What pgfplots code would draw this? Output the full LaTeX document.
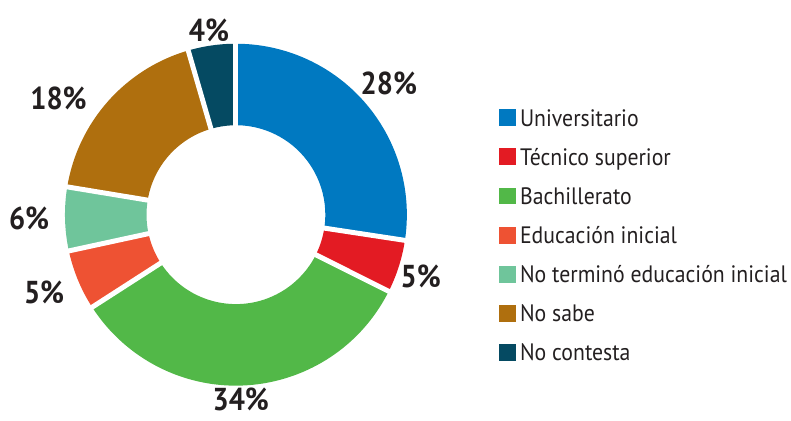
\documentclass[border=0pt]{standalone}
\usepackage{fontspec}
\setmainfont{PT Sans}[FakeStretch=0.915]
\newfontfamily\labfont{PT Sans}[FakeStretch=0.9]
\usepackage{pgfplots}
\usepackage{pgfplotstable}
\pgfplotsset{compat=1.18}
\usepgfplotslibrary{polar}

\definecolor{c0}{HTML}{0079C1}
\definecolor{c1}{HTML}{E31B23}
\definecolor{c2}{HTML}{52B848}
\definecolor{c3}{HTML}{EE5233}
\definecolor{c4}{HTML}{6FC59B}
\definecolor{c5}{HTML}{AF6F0E}
\definecolor{c6}{HTML}{054A62}
\definecolor{txt}{HTML}{231F20}

% share (%) as drawn, printed label, label angle and radius
\pgfplotstableread{
value lab la lr
27.4 28 40.7 1.18
5.0 5 -18.5 1.14
33.5 34 -88.5 1.08
5.7 5 202 1.21
6.0 6 181 1.21
17.9 18 146.8 1.24
4.5 4 98.3 1.09
}\shares

\begin{document}
% cumulative start/end angles, clockwise from the top
\def\cum{90}
\pgfplotsforeachungrouped \i in {0,...,6}{%
  \pgfplotstablegetelem{\i}{value}\of\shares
  \expandafter\xdef\csname sa\i\endcsname{\cum}%
  \pgfmathsetmacro\cum{\cum-3.6*\pgfplotsretval}%
  \expandafter\xdef\csname ea\i\endcsname{\cum}%
}
\begin{tikzpicture}
\path[use as bounding box] (0,0) rectangle (791bp,423bp);
\begin{polaraxis}[
  at={(232.5bp,207bp)}, anchor=origin,
  width=344bp, height=344bp, scale only axis,
  hide axis, clip=false,
  xmin=0, xmax=360, ymin=0, ymax=1,
  legend cell align=left,
  legend image code/.code={\fill[#1] (0bp,0.5bp) rectangle (16bp,16.5bp);},
  legend style={draw=none, fill=none, inner sep=0pt, outer sep=0pt,
    at={(1.2689,0.8087)}, anchor=north west, row sep=22.3bp,
    font=\fontsize{24}{28}\selectfont, text=txt,
    nodes={inner sep=0pt, text height=17bp, text depth=0pt, anchor=base west},
    /tikz/every odd column/.append style={column sep=5bp}},
]
\pgfplotsinvokeforeach{0,...,6}{%
  \edef\tmp{\noexpand\fill[c#1] (\csname sa#1\endcsname,1)
    arc[start angle=\csname sa#1\endcsname, end angle=\csname ea#1\endcsname, radius=172bp]
    -- (\csname ea#1\endcsname,0.523)
    arc[start angle=\csname ea#1\endcsname, end angle=\csname sa#1\endcsname, radius=90bp]
    -- cycle;}\tmp
}
\pgfplotsinvokeforeach{0,...,6}{%
  \edef\tmp{\noexpand\draw[white, line width=5bp]
    (\csname sa#1\endcsname,0.45) -- (\csname sa#1\endcsname,1.03);}\tmp
}
\addplot[forget plot, draw=none, mark=none, point meta=explicit symbolic,
  nodes near coords={\pgfplotspointmeta\%},
  nodes near coords style={anchor=center, inner sep=0pt, text=txt,
    font=\labfont\bfseries\fontsize{32}{32}\selectfont}]
  table[x=la, y=lr, meta=lab] {\shares};
\addlegendimage{c0}\addlegendentry{Universitario}
\addlegendimage{c1}\addlegendentry{Técnico superior}
\addlegendimage{c2}\addlegendentry{Bachillerato}
\addlegendimage{c3}\addlegendentry{Educación inicial}
\addlegendimage{c4}\addlegendentry{No terminó educación inicial}
\addlegendimage{c5}\addlegendentry{No sabe}
\addlegendimage{c6}\addlegendentry{No contesta}
\end{polaraxis}
\end{tikzpicture}
\end{document}
